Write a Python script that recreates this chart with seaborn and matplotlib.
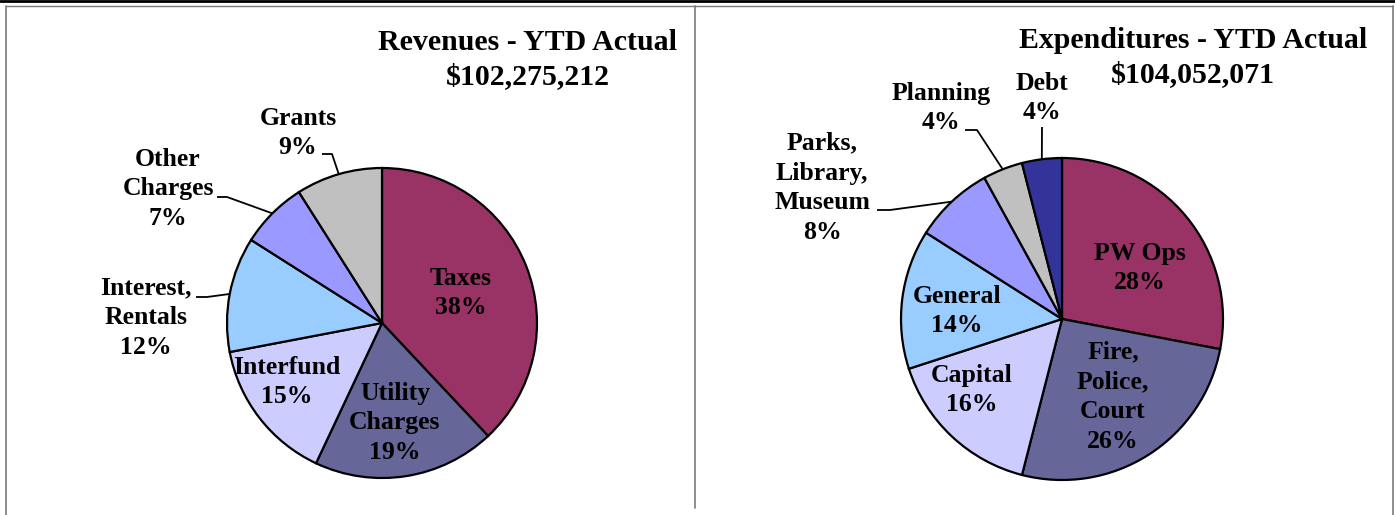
import numpy as np
import matplotlib
matplotlib.use("Agg")
import matplotlib.pyplot as plt
import seaborn as sns

# ---------------- data ----------------
rev_labels = ["Taxes\n38%", "Utility\nCharges\n19%", "Interfund\n15%",
              "Interest,\nRentals\n12%", "Other\nCharges\n7%", "Grants\n9%"]
rev_values = [38, 19, 15, 12, 7, 9]
rev_colors = ["#993366", "#666699", "#CCCCFF", "#99CCFF", "#9999FF", "#C0C0C0"]
rev_title = ["Revenues - YTD Actual", "$102,275,212"]

exp_labels = ["PW Ops\n28%", "Fire,\nPolice,\nCourt\n26%", "Capital\n16%",
              "General\n14%", "Parks,\nLibrary,\nMuseum\n8%", "Planning\n4%", "Debt\n4%"]
exp_values = [28, 26, 16, 14, 8, 4, 4]
exp_colors = ["#993366", "#666699", "#CCCCFF", "#99CCFF", "#9999FF", "#C0C0C0", "#333399"]
exp_title = ["Expenditures - YTD Actual", "$104,052,071"]

# ---------------- layout (pixel coordinates, y measured from top) ----------------
W, H = 1395, 515
rev_center, rev_radius = (382, 323), 155
exp_center, exp_radius = (1062, 319), 161
rev_label_pos = [(461, 293), (395, 423), (287, 382), (146, 318), (168, 189), (298, 133)]
exp_label_pos = [(1140, 268), (1113, 397), (972, 390), (957, 311), (822, 188), (941, 108), (1042, 98)]
rev_title_pos = [(528, 42), (528, 77)]
exp_title_pos = [(1193, 40), (1193, 75)]
# leader lines: index -> text-side points
rev_leaders = {3: [(196, 297), (207, 297)], 4: [(217, 197), (227, 197)], 5: [(322, 154), (332, 154)]}
exp_leaders = {4: [(877, 210), (890, 210)], 5: [(965, 130), (977, 130)], 6: [(1042, 127)]}

sns.set_theme(style="white")
plt.rcParams["font.family"] = ["Liberation Serif", "DejaVu Serif"]

fig = plt.figure(figsize=(W / 100, H / 100), dpi=100)
ax = fig.add_axes([0, 0, 1, 1])

def Y(y):
    return H - y

def draw_pie(values, colors, labels, center, radius, label_pos, leaders):
    c = (center[0], Y(center[1]))
    ax.pie(values, colors=colors, startangle=90, counterclock=False,
           center=c, radius=radius, frame=True,
           wedgeprops=dict(edgecolor="black", linewidth=1.6))
    total = float(sum(values))
    cum = np.cumsum([0] + list(values))
    for i, lab in enumerate(labels):
        x, y = label_pos[i]
        ax.text(x, Y(y), lab, ha="center", va="center", fontsize=18.5,
                fontweight="bold", color="black", linespacing=1.38)
        if i in leaders:
            mid = (cum[i] + values[i] / 2.0) / total
            ang = np.deg2rad(90 - 360 * mid)
            ex = c[0] + radius * np.cos(ang)
            ey = c[1] + radius * np.sin(ang)
            pts = [(px, Y(py)) for px, py in leaders[i]] + [(ex, ey)]
            ax.plot([p[0] for p in pts], [p[1] for p in pts], color="black", lw=1.3,
                    solid_capstyle="butt")

draw_pie(rev_values, rev_colors, rev_labels, rev_center, rev_radius, rev_label_pos, rev_leaders)
draw_pie(exp_values, exp_colors, exp_labels, exp_center, exp_radius, exp_label_pos, exp_leaders)

for lines, poss in ((rev_title, rev_title_pos), (exp_title, exp_title_pos)):
    for t, (x, y) in zip(lines, poss):
        ax.text(x, Y(y), t, ha="center", va="center", fontsize=21.5,
                fontweight="bold", color="black")

# frame lines
gray = "#7a7a7a"
ax.plot([0, W], [Y(1), Y(1)], color="black", lw=2.0)
ax.plot([6, 1393], [Y(6), Y(6)], color=gray, lw=1.0)
ax.plot([6, 6], [Y(6), Y(H)], color=gray, lw=1.2)
ax.plot([695, 695], [Y(6), Y(508)], color=gray, lw=1.2)
ax.plot([1393, 1393], [Y(6), Y(H)], color=gray, lw=1.2)

ax.set_xlim(0, W)
ax.set_ylim(0, H)
ax.set_aspect("auto")
ax.axis("off")

fig.savefig("out.png", dpi=100, facecolor="white")
